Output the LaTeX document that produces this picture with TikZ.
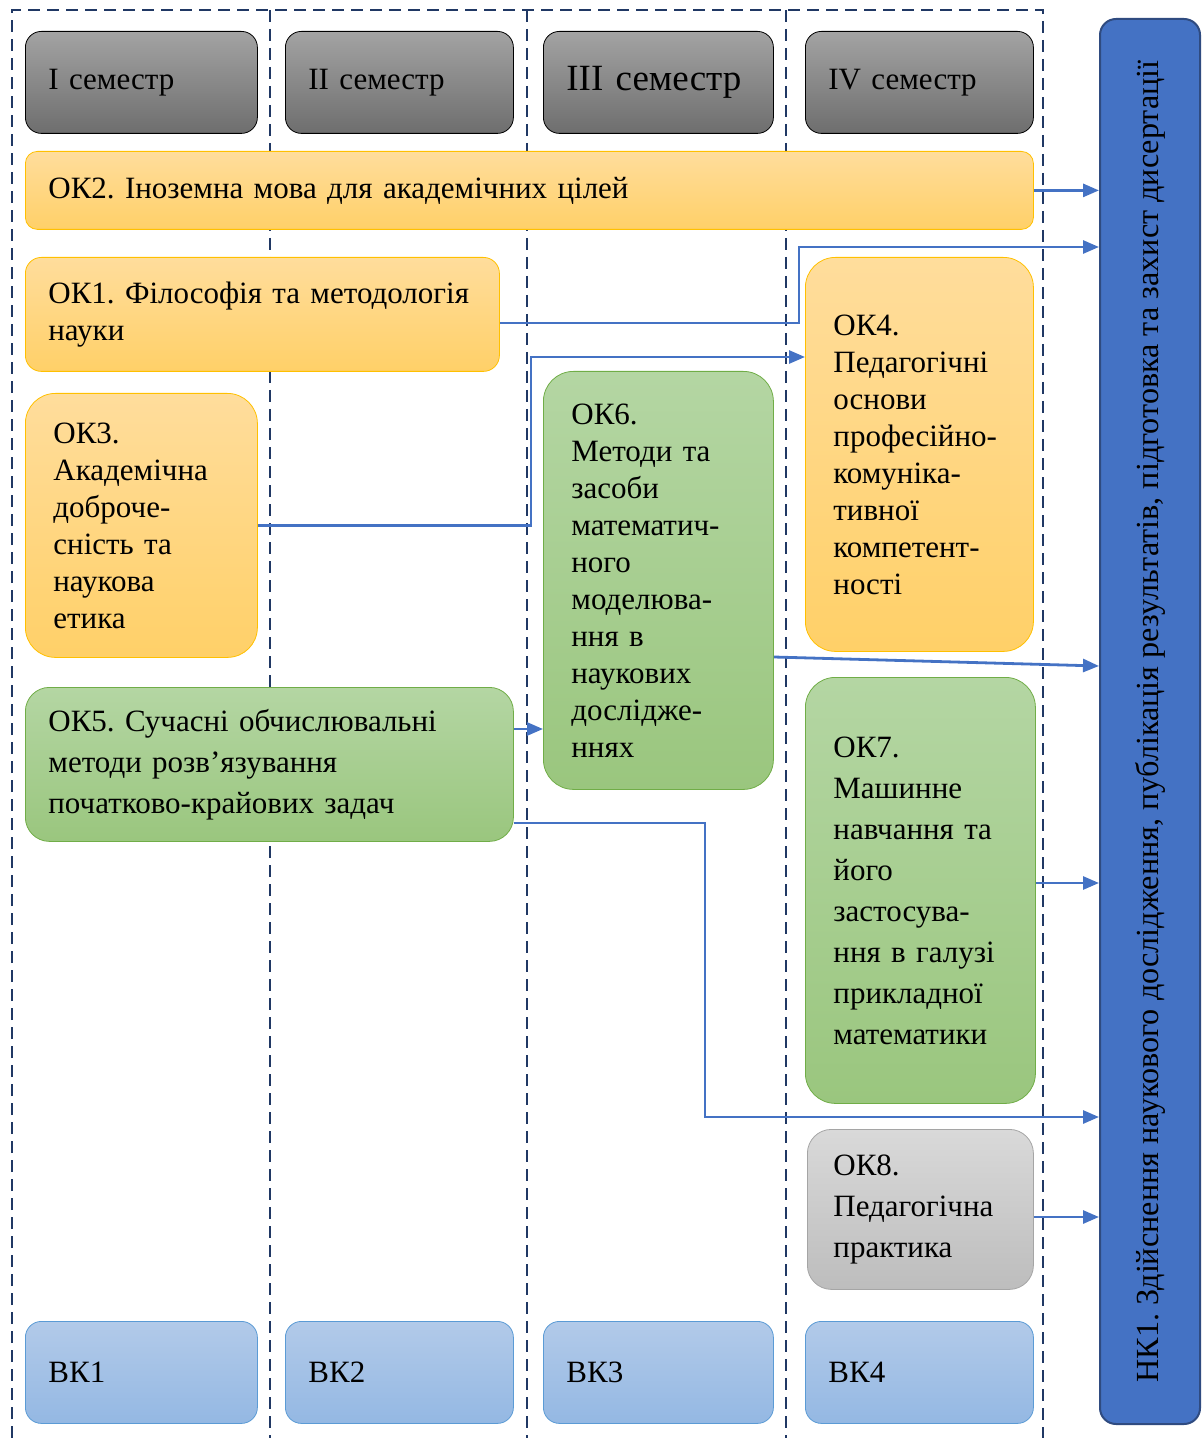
\documentclass[tikz,border=0pt]{standalone}
\usepackage{fontspec}
\setmainfont{Liberation Serif}
\usetikzlibrary{arrows.meta}
\frenchspacing

\definecolor{semtop}{HTML}{A3A3A3}
\definecolor{sembot}{HTML}{6E6E6E}
\definecolor{yeltop}{HTML}{FFDD9C}
\definecolor{yelbot}{HTML}{FFD068}
\definecolor{yelline}{HTML}{FFC000}
\definecolor{grntop}{HTML}{B4D6A3}
\definecolor{grnbot}{HTML}{9AC67E}
\definecolor{grnline}{HTML}{70AD47}
\definecolor{grytop}{HTML}{D9D9D9}
\definecolor{grybot}{HTML}{BDBDBD}
\definecolor{gryline}{HTML}{A5A5A5}
\definecolor{vktop}{HTML}{B2CAE9}
\definecolor{vkbot}{HTML}{94B8E3}
\definecolor{vkline}{HTML}{5B9BD5}
\definecolor{nkfill}{HTML}{4472C4}
\definecolor{nkline}{HTML}{2F4B80}
\definecolor{linkblue}{HTML}{4472C4}
\definecolor{colline}{HTML}{203864}

\newcommand{\okfont}{\fontsize{15.5}{18.5}\selectfont}
\newcommand{\okfontw}{\fontsize{15.5}{20.5}\selectfont}

\begin{document}
\begin{tikzpicture}[x=0.5pt, y=-0.5pt]
      % Стилі
      \tikzstyle{box}=[rounded corners=8pt, anchor=north west, align=left, inner xsep=11.5pt, inner ysep=0pt, font=\okfont]
      \tikzstyle{sem}=[box, draw=black, top color=semtop, bottom color=sembot, minimum height=51pt]
      \tikzstyle{oky}=[box, draw=yelline, top color=yeltop, bottom color=yelbot]
      \tikzstyle{okg}=[box, draw=grnline, top color=grntop, bottom color=grnbot]
      \tikzstyle{okgr}=[box, draw=gryline, top color=grytop, bottom color=grybot]
      \tikzstyle{vk}=[box, draw=vkline, top color=vktop, bottom color=vkbot, minimum height=51pt]
      \tikzstyle{tall}=[rounded corners=15pt, inner xsep=14pt]
      \tikzstyle{link}=[draw=linkblue, line width=1.4pt, -{Triangle[length=8pt,width=6.5pt]}]
      \tikzstyle{col}=[draw=colline, line width=1.4pt, dash pattern=on 6pt off 3.5pt]

      \useasboundingbox (0,0) rectangle (1202,1438);

      % Колонки семестрів
      \draw[col] (12,1438) -- (12,10) -- (1043,10) -- (1043,1438);
      \foreach \x in {270,527,786}
        \draw[col] (\x,10) -- (\x,1438);

      % Семестри
      \node[sem, text width=93pt] (sem1) at (25,31) {I семестр};
      \node[sem, text width=91pt] (sem2) at (285,31) {II семестр};
      \node[sem, text width=92pt, font=\fontsize{18.5}{20}\selectfont] (sem3) at (543,31) {III семестр};
      \node[sem, text width=91pt] (sem4) at (805,31) {IV семестр};

      % Обов'язкові компоненти
      \node[oky, text width=481pt, minimum height=39pt, rounded corners=6pt] (ok2) at (25,151) {ОК2. Іноземна мова для академічних цілей};
      \node[oky, text width=214pt, minimum height=57pt] (ok1) at (25,257) {ОК1. Філософія та методологія\\науки};
      \node[oky, tall, text width=88pt, minimum height=132pt] (ok3) at (25,393) {ОК3.\\Академічна\\доброче-\\сність та\\наукова\\етика};
      \node[okg, text width=221pt, minimum height=77pt, rounded corners=12pt, font=\okfontw] (ok5) at (25,687) {ОК5. Сучасні обчислювальні\\методи розв’язування\\початково-крайових задач};
      \node[okg, tall, text width=87pt, minimum height=209pt] (ok6) at (543,371) {ОК6.\\Методи та\\засоби\\математич-\\ного\\моделюва-\\ння в\\наукових\\дослідже-\\ннях};
      \node[oky, tall, text width=86pt, minimum height=197pt] (ok4) at (805,257) {ОК4.\\Педагогічні\\основи\\професійно-\\комуніка-\\тивної\\компетент-\\ності};
      \node[okg, tall, text width=87pt, minimum height=213pt, font=\okfontw] (ok7) at (805,677) {ОК7.\\Машинне\\навчання та\\його\\застосува-\\ння в галузі\\прикладної\\математики};
      \node[okgr, tall, rounded corners=12pt, inner xsep=13pt, text width=87pt, minimum height=80pt, font=\okfontw] (ok8) at (807,1129) {ОК8.\\Педагогічна\\практика};

      % Вибіркові компоненти
      \node[vk, text width=93pt] (vk1) at (25,1321) {ВК1};
      \node[vk, text width=91pt] (vk2) at (285,1321) {ВК2};
      \node[vk, text width=92pt] (vk3) at (543,1321) {ВК3};
      \node[vk, text width=91pt] (vk4) at (805,1321) {ВК4};

      % Наукова складова
      \node[anchor=north west, draw=nkline, fill=nkfill, line width=1pt, rounded corners=8pt,
            minimum width=50pt, minimum height=702.5pt, inner sep=0pt, font=\fontsize{16.1}{18}\selectfont] (nk1) at (1099,18)
            {\rotatebox{90}{НК1. Здійснення наукового дослідження, публікація результатів, підготовка та захист дисертації}};

      % Рівні та точки зламу
      \coordinate (y323) at (0,323);
      \coordinate (y729) at (0,729);
      \coordinate (y823) at (0,823);
      \coordinate (y657) at (0,657);
      \coordinate (y666) at (0,666);
      \coordinate (y883) at (0,883);
      \coordinate (y1217) at (0,1217);
      \coordinate (b1) at (799,247);
      \coordinate (b2) at (531,357);
      \coordinate (b3) at (705,1117);

      % Зв'язки
      \draw[link] (ok2.east) -- (nk1.west |- ok2.east);
      \draw[link] (ok1.east |- y323) -| (b1) -- (nk1.west |- b1);
      \draw[link] (ok3.east) -| (b2) -- (ok4.west |- b2);
      \draw[link] (ok6.east |- y657) -- (nk1.west |- y666);
      \draw[link] (ok5.east |- y729) -- (ok6.west |- y729);
      \draw[link] (ok5.east |- y823) -| (b3) -- (nk1.west |- b3);
      \draw[link] (ok7.east |- y883) -- (nk1.west |- y883);
      \draw[link] (ok8.east |- y1217) -- (nk1.west |- y1217);
    \end{tikzpicture}
\end{document}
